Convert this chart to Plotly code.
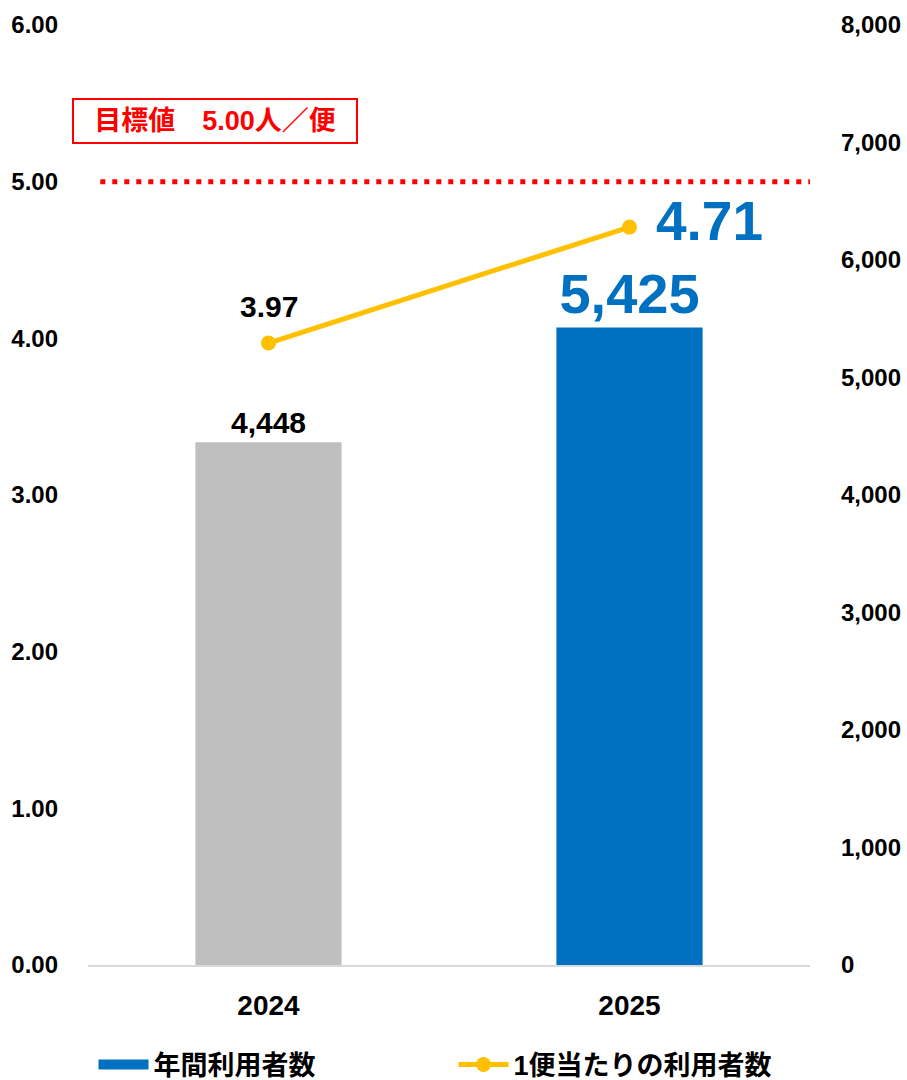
import plotly.graph_objects as go

years = ["2024", "2025"]
annual_users = [4448, 5425]
per_flight = [3.97, 4.71]
target = 5.00
bar_colors = ["#BFBFBF", "#0070C0"]
label_colors = ["#000000", "#0070C0"]
left_ticks = [0, 1, 2, 3, 4, 5, 6]
right_ticks = [0, 1000, 2000, 3000, 4000, 5000, 6000, 7000, 8000]

FONT = "Liberation Sans, Noto Sans CJK JP, sans-serif"
BOLD = dict(family=FONT, weight="bold")

fig = go.Figure()

# legend entry for bars (blue rectangle)
fig.add_trace(go.Scatter(
    x=[None], y=[None], mode="lines", name="年間利用者数",
    line=dict(color="#0070C0", width=16), hoverinfo="skip",
))

fig.add_trace(go.Bar(
    x=years, y=annual_users, yaxis="y2", name="年間利用者数", showlegend=False,
    marker=dict(color=bar_colors, line=dict(width=0)),
    text=[f"{v:,}" for v in annual_users], textposition="outside",
    textfont=dict(size=[30, 56], color=label_colors, **BOLD),
    cliponaxis=False,
))

fig.add_trace(go.Scatter(
    x=years, y=per_flight, yaxis="y", name="1便当たりの利用者数",
    mode="lines+markers",
    line=dict(color="#FFC000", width=5),
    marker=dict(size=15, color="#FFC000"),
    cliponaxis=False,
))

# line value labels (x given as category index of each year)
label_style = [
    dict(xanchor="center", yanchor="bottom", xshift=0, yshift=18, size=30),
    dict(xanchor="left", yanchor="middle", xshift=24, yshift=6, size=55),
]
for i, (yr, v) in enumerate(zip(years, per_flight)):
    st = label_style[i]
    fig.add_annotation(x=i, y=v, xref="x", yref="y", text=f"{v:.2f}",
                       showarrow=False, xanchor=st["xanchor"], yanchor=st["yanchor"],
                       xshift=st["xshift"], yshift=st["yshift"],
                       font=dict(size=st["size"], color=label_colors[i], **BOLD))

fig.add_shape(type="line", xref="paper", yref="y", x0=0.017, x1=1.0, y0=target, y1=target,
              line=dict(color="#FF0000", width=5, dash="5px,7px"))

fig.add_annotation(xref="paper", yref="y", x=-0.022, y=5.39, xanchor="left", yanchor="middle",
                   text=f"目標値　{target:.2f}人／便", showarrow=False,
                   font=dict(size=27, color="#FF0000", **BOLD),
                   width=280, height=40, align="center",
                   bordercolor="#FF0000", borderwidth=2, borderpad=1, bgcolor="white")

fig.update_layout(
    width=907, height=1080,
    margin=dict(l=88, r=97, t=25, b=115, autoexpand=False),
    plot_bgcolor="white", paper_bgcolor="white",
    font=dict(family=FONT, color="#000000"),
    bargap=0.595,
    showlegend=True,
    legend=dict(orientation="h", x=0.5, xanchor="center", xref="container",
                y=0.0139, yanchor="middle", yref="container",
                font=dict(size=27, **BOLD), traceorder="normal",
                entrywidth=295, entrywidthmode="pixels", itemwidth=50),
    xaxis=dict(type="category", categoryarray=years, categoryorder="array",
               range=[-0.5, len(years) - 0.5],
               showgrid=False, showline=True, linecolor="#D9D9D9", linewidth=2,
               tickfont=dict(size=28, **BOLD), ticks="", ticklabelstandoff=14,
               automargin=False),
    yaxis=dict(range=[0, 6], tickvals=left_ticks, tickformat=".2f", showgrid=False,
               zeroline=False, showline=False, ticks="", ticklabelstandoff=29,
               tickfont=dict(size=24, **BOLD), automargin=False),
    yaxis2=dict(range=[0, 8000], tickvals=right_ticks, tickformat=",", overlaying="y",
                side="right", showgrid=False, zeroline=False, showline=False, ticks="",
                ticklabelstandoff=30, tickfont=dict(size=24, **BOLD), automargin=False),
)

fig.write_html("out.html", config={"displayModeBar": False},
               post_script="document.body.style.margin='0';")
